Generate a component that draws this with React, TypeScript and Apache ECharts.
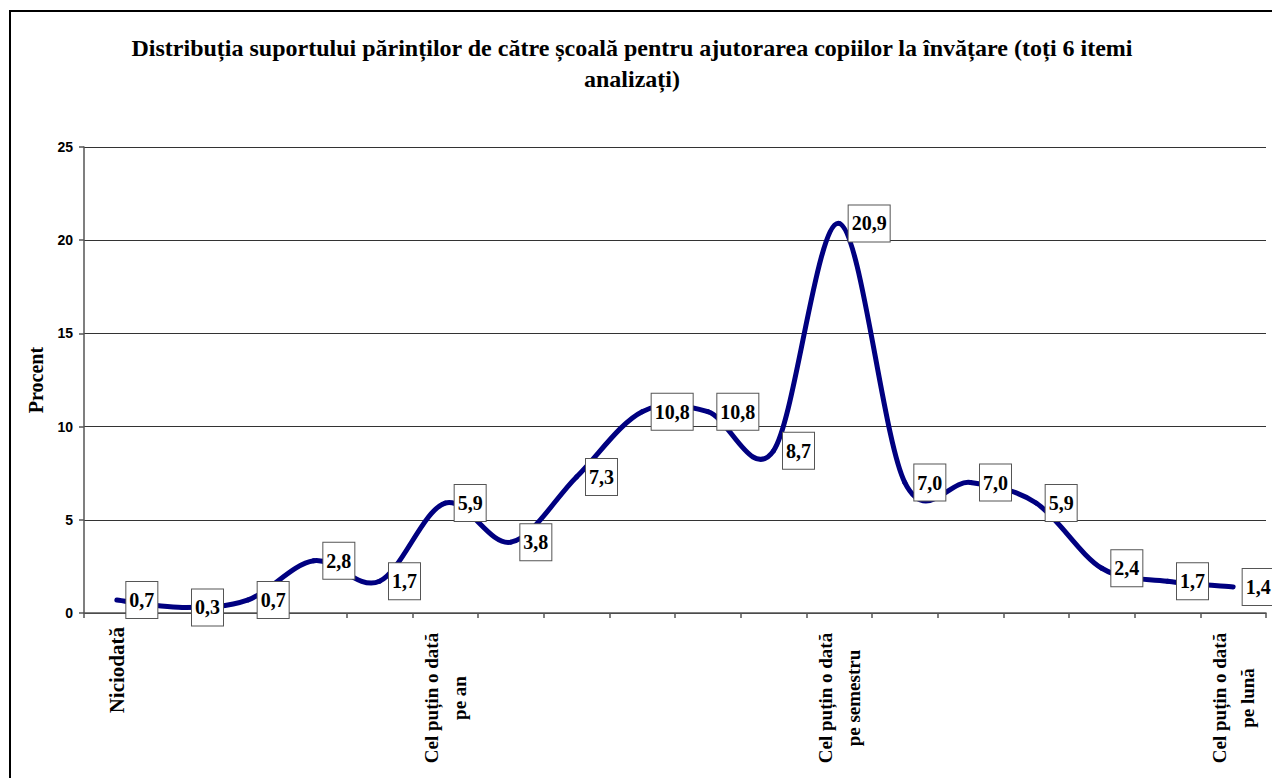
import React, { useEffect, useRef } from "react";
import * as echarts from "echarts";

const titleText =
  "Distribuția suportului părinților de către școală pentru ajutorarea copiilor la învățare (toți 6 itemi\nanalizați)";
const yAxisName = "Procent";
const categories = [
  "Niciodată",
  "", "", "", "",
  "Cel puțin o dată\npe an",
  "", "", "", "", "",
  "Cel puțin o dată\npe semestru",
  "", "", "", "", "",
  "Cel puțin o dată\npe lună",
];
const values = [0.7, 0.3, 0.7, 2.8, 1.7, 5.9, 3.8, 7.3, 10.8, 10.8, 8.7, 20.9, 7.0, 7.0, 5.9, 2.4, 1.7, 1.4];
const yTicks = { min: 0, max: 25, interval: 5 };

const serif = "'Liberation Serif', 'Times New Roman', serif";

export default function App() {
  const ref = useRef<HTMLDivElement>(null);
  useEffect(() => {
    if (!ref.current) return;
    const chart = echarts.init(ref.current, undefined, { renderer: "svg" });
    const n = values.length;
    const renderCurve = (params: any, api: any) => {
      const i = params.dataIndex;
      if (i >= n - 1) return { type: "group", children: [] };
      const ip = Math.max(0, i - 1);
      const inx = Math.min(n - 1, i + 2);
      const p0 = api.coord([ip, values[ip]]);
      const p1 = api.coord([i, values[i]]);
      const p2 = api.coord([i + 1, values[i + 1]]);
      const p3 = api.coord([inx, values[inx]]);
      return {
        type: "bezierCurve",
        shape: {
          x1: p1[0],
          y1: p1[1],
          x2: p2[0],
          y2: p2[1],
          cpx1: p1[0] + (p2[0] - p0[0]) / 6,
          cpy1: p1[1] + (p2[1] - p0[1]) / 6,
          cpx2: p2[0] - (p3[0] - p1[0]) / 6,
          cpy2: p2[1] - (p3[1] - p1[1]) / 6,
        },
        style: { fill: "none", stroke: "#000080", lineWidth: 5, lineCap: "round" },
      };
    };
    chart.setOption({
      animation: false,
      backgroundColor: "#ffffff",
      title: {
        text: titleText,
        left: 632,
        top: 32,
        padding: 0,
        textAlign: "center",
        textStyle: {
          fontFamily: serif,
          fontWeight: "bold",
          fontSize: 24,
          lineHeight: 31,
          color: "#000",
        },
      },
      graphic: [
        {
          type: "rect",
          shape: { x: 10, y: 11, width: 1300, height: 800 },
          style: { fill: "none", stroke: "#000", lineWidth: 2 },
          silent: true,
        },
      ],
      grid: { left: 84, right: 6, top: 147, bottom: 165, containLabel: false },
      xAxis: {
        type: "category",
        data: categories,
        boundaryGap: true,
        axisLine: { lineStyle: { color: "#555", width: 1.5 } },
        axisTick: { show: true, length: 5, interval: 0, lineStyle: { color: "#555", width: 1.5 } },
        axisLabel: {
          interval: 0,
          rotate: 90,
          margin: 14,
          fontFamily: serif,
          fontWeight: "bold",
          fontSize: 19,
          color: "#000",
          formatter: (v: string) => {
            if (!v) return "";
            if (v.indexOf("\n") < 0) return "{s|" + v + "}";
            return v
              .split("\n")
              .map((l) => "{m|" + l + "}")
              .join("\n");
          },
          rich: {
            s: { fontFamily: serif, fontWeight: "bold", fontSize: 21, color: "#000" },
            m: {
              fontFamily: serif,
              fontWeight: "bold",
              fontSize: 19,
              color: "#000",
              width: 142,
              align: "center",
              lineHeight: 28,
            },
          },
        },
        splitLine: { show: false },
      },
      yAxis: {
        type: "value",
        min: yTicks.min,
        max: yTicks.max,
        interval: yTicks.interval,
        name: yAxisName,
        nameLocation: "middle",
        nameGap: 38,
        nameRotate: 90,
        nameTextStyle: { fontFamily: serif, fontWeight: "bold", fontSize: 20, color: "#000" },
        axisLine: { show: true, lineStyle: { color: "#555", width: 1.5 } },
        axisTick: { show: true, length: 5, lineStyle: { color: "#555", width: 1.5 } },
        axisLabel: {
          margin: 11,
          fontFamily: "Arial, 'Liberation Sans', sans-serif",
          fontWeight: "bold",
          fontSize: 14,
          color: "#000",
        },
        splitLine: { show: true, lineStyle: { color: "#333", width: 1 } },
      },
      series: [
        {
          type: "custom",
          data: values.map((v, i) => [i, v]),
          renderItem: renderCurve,
          clip: false,
          silent: true,
          z: 2,
        },
        {
          type: "line",
          data: values,
          symbol: "circle",
          symbolSize: 1,
          showSymbol: true,
          itemStyle: { color: "#000080" },
          lineStyle: { width: 0, opacity: 0 },
          label: {
            show: true,
            position: "right",
            distance: 9,
            formatter: (p: any) => p.value.toFixed(1).replace(".", ","),
            fontFamily: serif,
            fontWeight: "bold",
            fontSize: 20,
            lineHeight: 20,
            color: "#000",
            backgroundColor: "#fff",
            borderColor: "#555",
            borderWidth: 1,
            padding: [8, 3, 8, 3],
          },
          z: 3,
        },
      ],
    });
    return () => chart.dispose();
  }, []);
  return (
    <div
      ref={ref}
      style={{ position: "fixed", left: 0, top: 0, width: 1272, height: 778 }}
    />
  );
}
